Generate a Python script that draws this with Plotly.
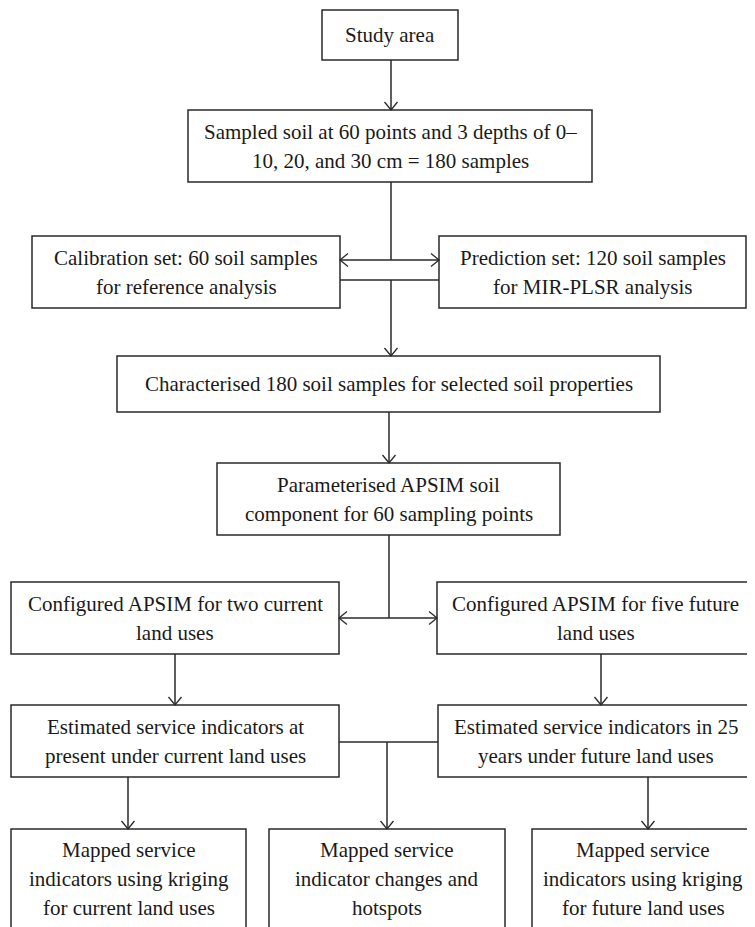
import plotly.graph_objects as go

# ---- content (texts of the flowchart boxes) ----
study_area = ["Study area"]
sampled = ["Sampled soil at 60 points and 3 depths of 0–", "10, 20, and 30 cm = 180 samples"]
calibration = ["Calibration set: 60 soil samples", "for reference analysis"]
prediction = ["Prediction set: 120 soil samples", "for MIR-PLSR analysis"]
characterised = ["Characterised 180 soil samples for selected soil properties"]
parameterised = ["Parameterised APSIM soil", "component for 60 sampling points"]
config_current = ["Configured APSIM for two current", "land uses"]
config_future = ["Configured APSIM for five future", "land uses"]
est_current = ["Estimated service indicators at", "present under current land uses"]
est_future = ["Estimated service indicators in 25", "years under future land uses"]
map_current = ["Mapped service", "indicators using kriging", "for current land uses"]
map_changes = ["Mapped service", "indicator changes and", "hotspots"]
map_future = ["Mapped service", "indicators using kriging", "for future land uses"]

# ---- layout geometry (pixel space of the 755x927 page) ----
W, H = 755, 927
OFF = 8  # default page body margin
boxes = [
    (study_area, (322, 10, 458, 60)),
    (sampled, (188, 110, 592, 182)),
    (calibration, (32, 236, 340, 308)),
    (prediction, (439, 236, 746, 308)),
    (characterised, (117, 356, 660, 412)),
    (parameterised, (217, 463, 560, 535)),
    (config_current, (11, 582, 339, 654)),
    (config_future, (437, 582, 754, 654)),
    (est_current, (11, 705, 339, 777)),
    (est_future, (438, 705, 754, 777)),
    (map_current, (11, 829, 246, 960)),
    (map_changes, (269, 829, 505, 960)),
    (map_future, (532, 829, 754, 960)),
]

# plain connector lines
lines = [
    (391, 182, 391, 260), (340, 260, 439, 260),
    (340, 280, 439, 280), (391, 280, 391, 356),
    (391, 60, 391, 110),
    (389, 412, 389, 463),
    (389, 535, 389, 618), (339, 618, 437, 618),
    (175, 654, 175, 705), (601, 654, 601, 705),
    (339, 742, 438, 742), (387, 742, 387, 829),
    (128, 777, 128, 829), (648, 777, 648, 829),
]
# arrow heads: (tip x, tip y, direction)
heads = [
    (391, 110, "down"), (340, 260, "left"), (439, 260, "right"),
    (391, 356, "down"), (389, 463, "down"),
    (339, 618, "left"), (437, 618, "right"),
    (175, 705, "down"), (601, 705, "down"),
    (387, 829, "down"), (128, 829, "down"), (648, 829, "down"),
]

LINE = "#2a2a2a"
FONT = dict(family="Liberation Serif, Times New Roman, serif", size=21, color="#1a1a1a")
LH = 29

fig = go.Figure()
shapes = []
annotations = []

for texts, (x0, y0, x1, y1) in boxes:
    shapes.append(dict(type="rect", x0=x0, y0=y0, x1=x1, y1=y1,
                       line=dict(color=LINE, width=1.5), fillcolor="white", layer="below"))
    n = len(texts)
    cx = (x0 + x1) / 2
    if y1 > H:
        first = 850
    else:
        first = (y0 + y1) / 2 - (n - 1) * LH / 2
    for i, t in enumerate(texts):
        annotations.append(dict(x=cx, y=first + i * LH, text=t, showarrow=False,
                                xanchor="center", yanchor="middle", font=FONT,
                                xref="x", yref="y"))

for (xa, ya, xb, yb) in lines:
    shapes.append(dict(type="line", x0=xa, y0=ya, x1=xb, y1=yb,
                       line=dict(color=LINE, width=1.5)))

hw, hl = 6.5, 8
for (x, y, d) in heads:
    if d == "down":
        p = f"M {x-hw},{y-hl} L {x},{y} L {x+hw},{y-hl}"
    elif d == "left":
        p = f"M {x+hl},{y-hw} L {x},{y} L {x+hl},{y+hw}"
    else:
        p = f"M {x-hl},{y-hw} L {x},{y} L {x-hl},{y+hw}"
    shapes.append(dict(type="path", path=p, line=dict(color=LINE, width=1.3)))

fig.update_layout(
    width=W - OFF, height=H - OFF,
    margin=dict(l=0, r=0, t=0, b=0),
    paper_bgcolor="white", plot_bgcolor="white",
    xaxis=dict(range=[OFF, W], visible=False, fixedrange=True),
    yaxis=dict(range=[H, OFF], visible=False, fixedrange=True),
    shapes=shapes, annotations=annotations, showlegend=False,
)
fig.write_html("out.html")
